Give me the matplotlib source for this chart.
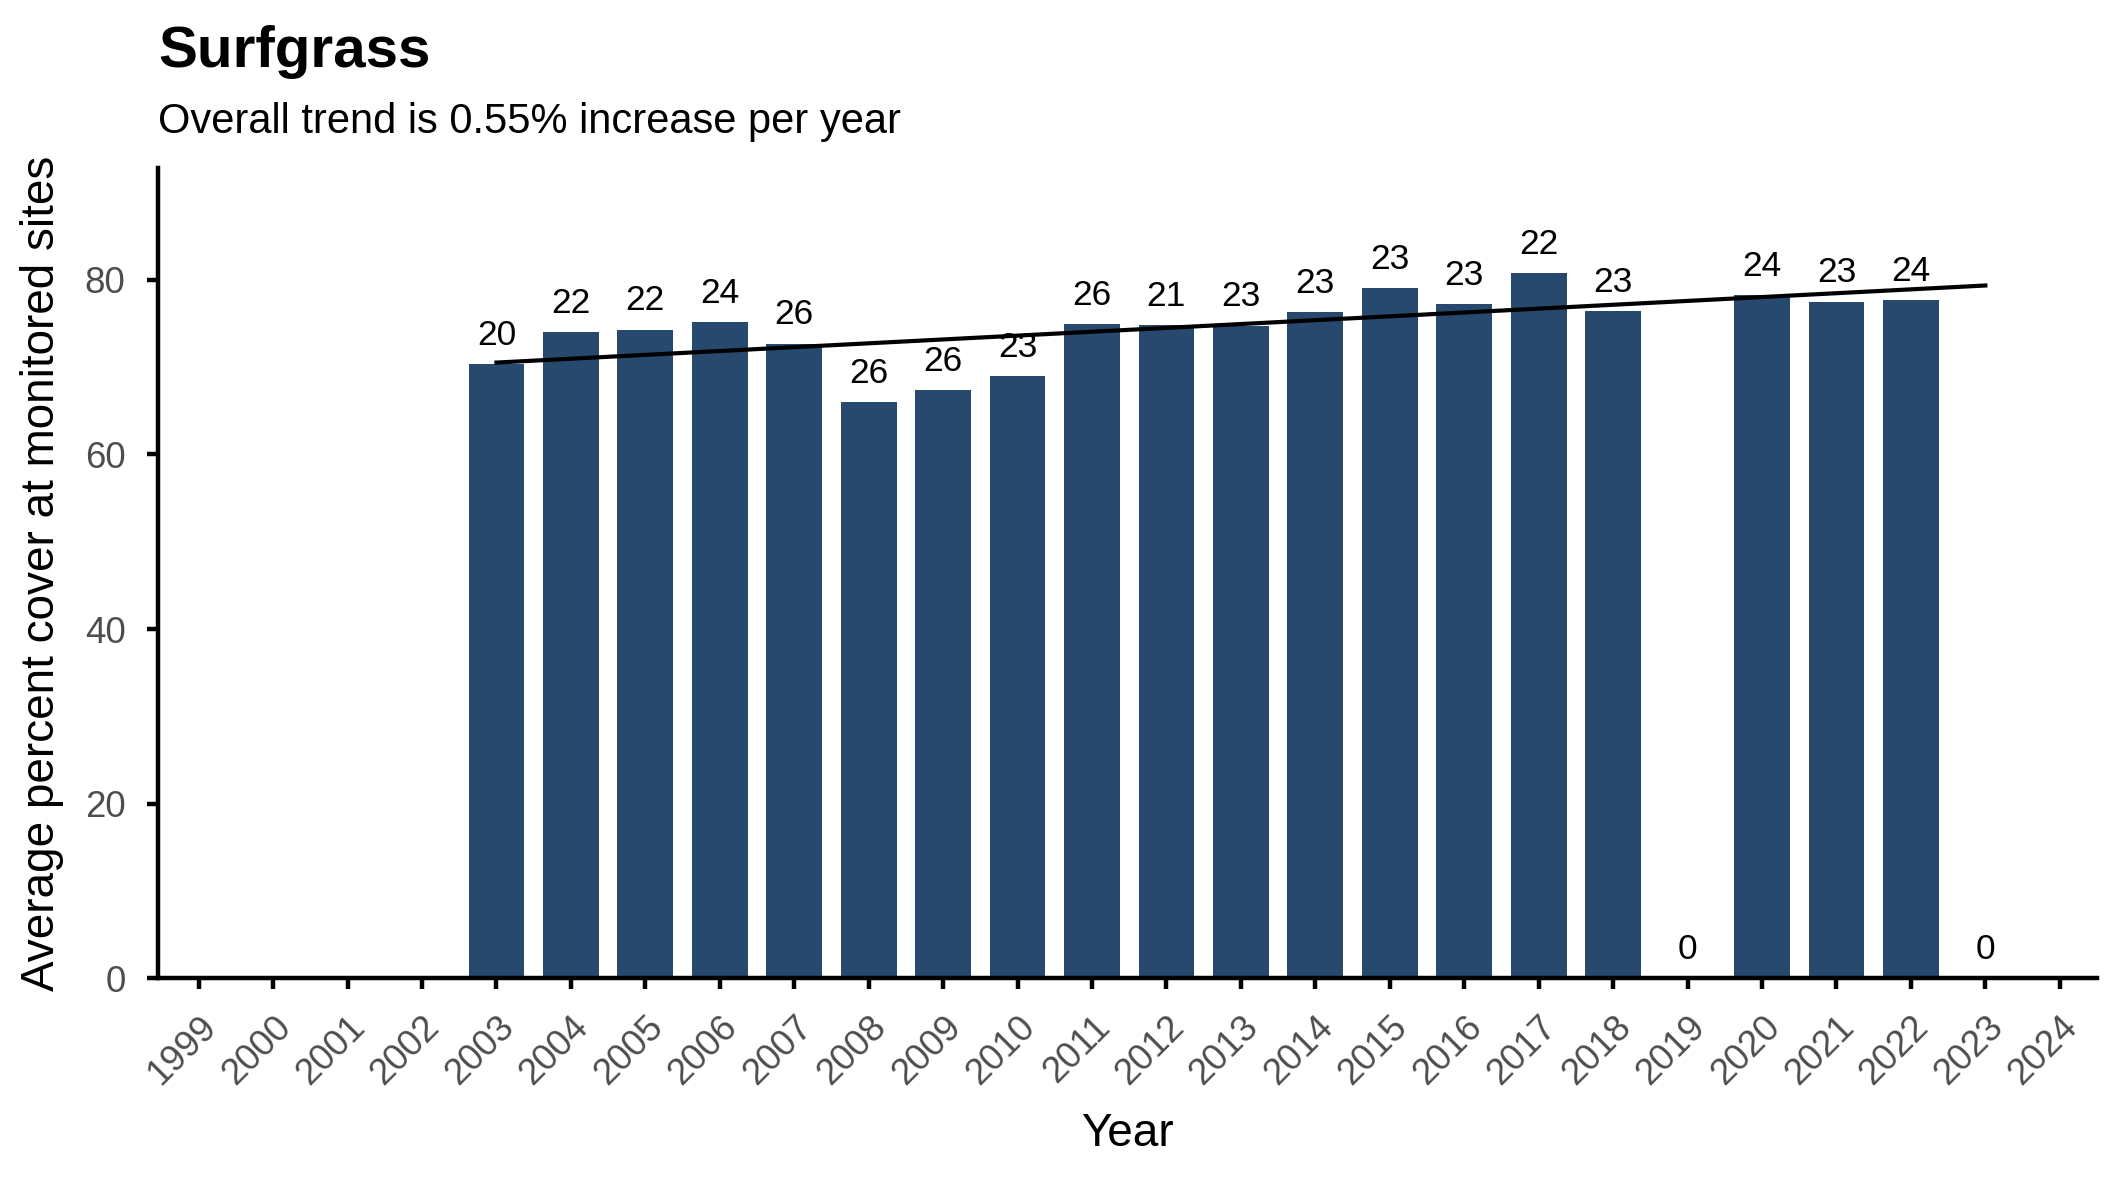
import numpy as np
import matplotlib
matplotlib.use("Agg")
import matplotlib.pyplot as plt

# ---- data ----
years = list(range(1999, 2025))
bar_years = [2003, 2004, 2005, 2006, 2007, 2008, 2009, 2010, 2011, 2012,
             2013, 2014, 2015, 2016, 2017, 2018, 2020, 2021, 2022]
cover = [70.3, 74.0, 74.3, 75.2, 72.7, 66.0, 67.4, 69.0, 74.9, 74.85,
         74.75, 76.3, 79.0, 77.25, 80.8, 76.45, 78.2, 77.5, 77.7]
label_years = [2003, 2004, 2005, 2006, 2007, 2008, 2009, 2010, 2011, 2012,
               2013, 2014, 2015, 2016, 2017, 2018, 2019, 2020, 2021, 2022, 2023]
n_sites = [20, 22, 22, 24, 26, 26, 26, 23, 26, 21,
           23, 23, 23, 23, 22, 23, 0, 24, 23, 24, 0]
trend_years = [2003, 2023]

title = "Surfgrass"
subtitle = "Overall trend is 0.55% increase per year"
xlabel = "Year"
ylabel = "Average percent cover at monitored sites"

plt.rcParams['font.family'] = ['Liberation Sans', 'DejaVu Sans']

W, H, DPI = 2125, 1181, 300
fig = plt.figure(figsize=(W / DPI, H / DPI), dpi=DPI)
ax = fig.add_axes([157.7 / W, 1 - 978.3 / H, (2097 - 157.7) / W, (978.3 - 168) / H])

bar_color = '#27496d'
ax.bar(bar_years, cover, width=0.75, color=bar_color, zorder=2)

# trend line (OLS fit of the data)
coef = np.polyfit(bar_years, cover, 1)
tx = np.array(trend_years, dtype=float)
ax.plot(tx, np.polyval(coef, tx), color='black', lw=1.0, zorder=3)

# labels
val = dict(zip(bar_years, cover))
for y, n in zip(label_years, n_sites):
    v = val.get(y, 0.0)
    ax.annotate(str(n), (y, v), xytext=(0, 4.6), textcoords='offset points',
                ha='center', va='baseline', fontsize=8.5, color='black', zorder=4)

ax.set_xlim(1998.45, 2024.5)
ax.set_ylim(0, 92.8)
ax.set_xticks(years)
ax.set_xticklabels([str(y) for y in years], rotation=45, ha='right', va='top',
                   rotation_mode='anchor')
ax.set_yticks([0, 20, 40, 60, 80])

for s in ['top', 'right']:
    ax.spines[s].set_visible(False)
for s in ['left', 'bottom']:
    ax.spines[s].set_linewidth(1.07)
ax.tick_params(axis='both', length=2.75, width=1.07, color='black',
               labelsize=8.8, labelcolor='#4d4d4d')
ax.tick_params(axis='x', pad=4.8)
ax.tick_params(axis='y', pad=5.0)

fig.text(((157.7 + 2097) / 2) / W, 1 - 1146 / H, xlabel, fontsize=11,
         ha='center', va='baseline', color='black')
fig.text(20 / W, 1 - 573 / H, ylabel, fontsize=11, rotation=90,
         ha='left', va='center', color='black')

fig.text(158 / W, 1 - 67 / H, title, fontsize=14, fontweight='bold', ha='left', va='baseline')
fig.text(158 / W, 1 - 133 / H, subtitle, fontsize=10, ha='left', va='baseline')

fig.savefig("out.png", dpi=DPI)
